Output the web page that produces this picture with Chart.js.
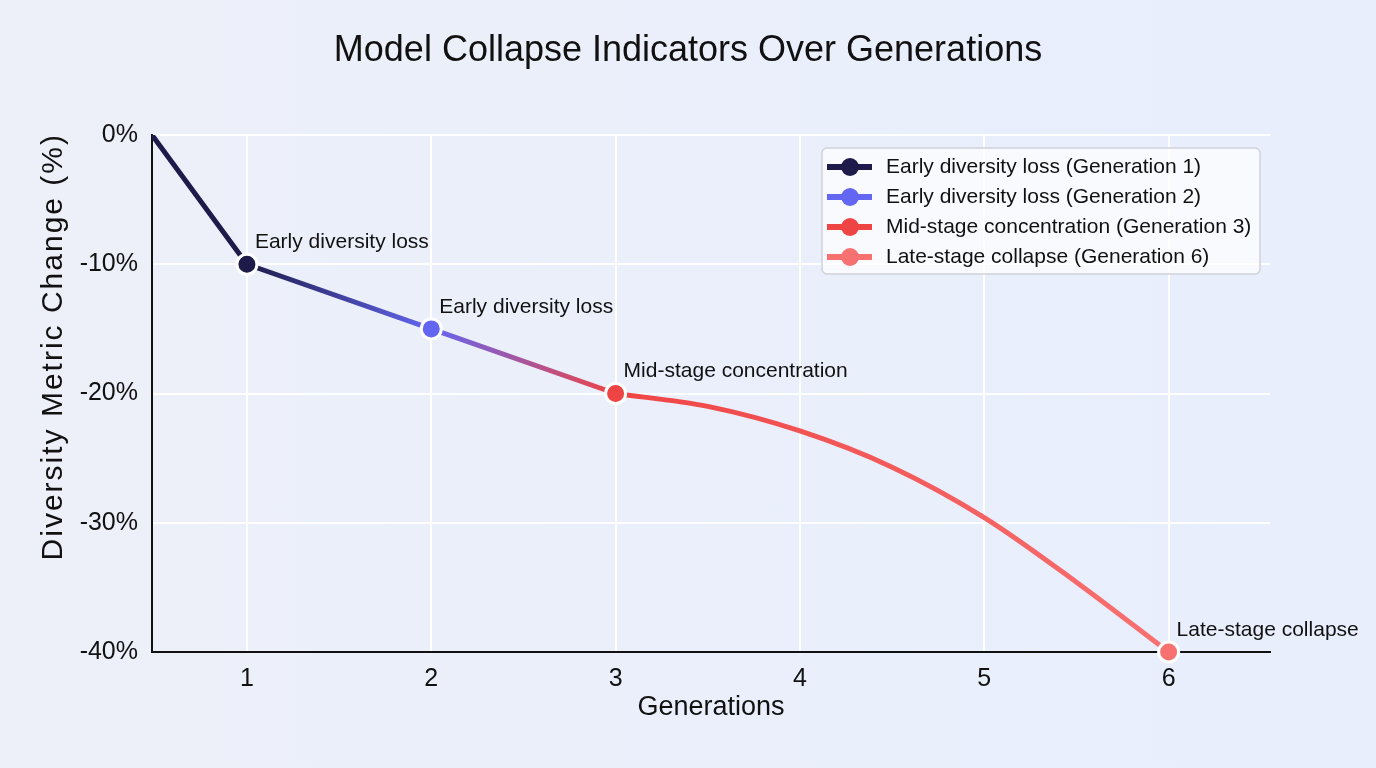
<!DOCTYPE html>
<html>
<head>
<meta charset="utf-8">
<title>Model Collapse Indicators Over Generations</title>
<script src="https://cdn.jsdelivr.net/npm/chart.js@4.4.1/dist/chart.umd.min.js"></script>
<style>
  html, body { margin: 0; padding: 0; }
  body {
    width: 1376px; height: 768px; overflow: hidden;
    background: linear-gradient(90deg, #edf0f8 0%, #eaeffb 50%, #e8eefc 100%);
  }
  canvas { display: block; }
</style>
</head>
<body>
<canvas id="grafica" width="1376" height="768"></canvas>
<script>
// datos
const pathX = [0.485, 1, 2, 3];          // tramo recto inicial
const pathY = [0, -10, -15, -20];
const curveX = [3, 3.5, 4, 4.5, 5, 5.5, 6]; // tramo curvo final
const curveY = [-20, -21.0, -22.9, -25.7, -29.6, -34.6, -40];

const markerGens = [1, 2, 3, 6];
const markerVals = [-10, -15, -20, -40];
const markerLabels = ["Early diversity loss", "Early diversity loss", "Mid-stage concentration", "Late-stage collapse"];
const legendLabels = [
    "Early diversity loss (Generation 1)",
    "Early diversity loss (Generation 2)",
    "Mid-stage concentration (Generation 3)",
    "Late-stage collapse (Generation 6)"
];
const stageColors = ["#1e1b4b", "#6366f1", "#ef4444", "#f87171"];
const xTicks = [1, 2, 3, 4, 5, 6];
const yTicks = [-40, -30, -20, -10, 0];

const FONT = "'Liberation Sans', Arial, Helvetica, sans-serif";

//gradiente horizontal del trazo, con paradas en cada generacion marcada
function lineGradient(ctx) {
    const chart = ctx.chart;
    const xs = chart.scales.x;
    if (!chart.chartArea || !xs) return stageColors[0];
    const first = markerGens[0], last = markerGens[markerGens.length - 1];
    const g = chart.ctx.createLinearGradient(xs.getPixelForValue(first), 0, xs.getPixelForValue(last), 0);
    markerGens.forEach((gen, i) => {
        g.addColorStop((gen - first) / (last - first), stageColors[i]);
    });
    return g;
}

//titulo general y titulo del eje Y (con espaciado de letras)
const titlePlugin = {
    id: 'titulos',
    afterDraw(chart) {
        const c = chart.ctx;
        c.save();
        c.font = `36px ${FONT}`;
        c.fillStyle = '#111';
        c.textAlign = 'center';
        c.textBaseline = 'middle';
        c.fillText("Model Collapse Indicators Over Generations", chart.width / 2, 51);
        c.restore();

        c.save();
        c.translate(54, chart.chartArea.top - 2);
        c.rotate(-Math.PI / 2);
        c.font = `30px ${FONT}`;
        c.letterSpacing = '2px';
        c.fillStyle = '#111';
        c.textAlign = 'right';
        c.textBaseline = 'middle';
        c.fillText("Diversity Metric Change (%)", 0, 0);
        c.restore();
    }
};

const labelsPlugin = {
    id: 'etiquetas',
    afterDatasetsDraw(chart) {
        const c = chart.ctx;
        const xs = chart.scales.x, ys = chart.scales.y;
        c.save();
        c.font = `21px ${FONT}`;
        c.fillStyle = '#111';
        c.textAlign = 'left';
        c.textBaseline = 'middle';
        markerGens.forEach((gen, i) => {
            c.fillText(markerLabels[i], xs.getPixelForValue(gen) + 8, ys.getPixelForValue(markerVals[i]) - 22);
        });
        c.restore();
    }
};

const legendPlugin = {
    id: 'leyenda',
    afterDraw(chart) {
        const c = chart.ctx;
        const area = chart.chartArea;
        const w = 438, h = 126;
        const left = area.right - 10 - w, top = area.top + 13;
        c.save();
        c.beginPath();
        c.roundRect(left, top, w, h, 5);
        c.fillStyle = 'rgba(255,255,255,0.7)';
        c.fill();
        c.strokeStyle = '#cfd2da';
        c.lineWidth = 1.5;
        c.stroke();
        c.font = `21px ${FONT}`;
        c.textBaseline = 'middle';
        legendLabels.forEach((txt, i) => {
            const y = top + 19 + i * 30;
            c.strokeStyle = stageColors[i];
            c.lineWidth = 6;
            c.beginPath();
            c.moveTo(left + 5, y);
            c.lineTo(left + 50, y);
            c.stroke();
            c.fillStyle = stageColors[i];
            c.beginPath();
            c.arc(left + 28, y, 9, 0, Math.PI * 2);
            c.fill();
            c.fillStyle = '#111';
            c.fillText(txt, left + 64, y);
        });
        c.restore();
    }
};

const config = {
    type: 'line',
    data: {
        datasets: [
            {
                label: 'markers',
                data: markerGens.map((g, i) => ({ x: g, y: markerVals[i] })),
                showLine: false,
                clip: false,
                pointRadius: 10,
                pointHoverRadius: 10,
                pointBorderWidth: 3,
                pointBorderColor: '#ffffff',
                pointBackgroundColor: stageColors
            },
            {
                label: 'path',
                data: pathX.map((x, i) => ({ x: x, y: pathY[i] })),
                borderColor: lineGradient,
                borderWidth: 5,
                pointRadius: 0,
                tension: 0,
                borderCapStyle: 'round',
                borderJoinStyle: 'round'
            },
            {
                label: 'curve',
                data: curveX.map((x, i) => ({ x: x, y: curveY[i] })),
                borderColor: lineGradient,
                borderWidth: 5,
                pointRadius: 0,
                cubicInterpolationMode: 'monotone',
                borderCapStyle: 'round'
            }
        ]
    },
    options: {
        responsive: false,
        animation: false,
        layout: { padding: { top: 135, right: 106, left: 0, bottom: 0 } },
        plugins: {
            legend: { display: false },
            title: { display: false },
            tooltip: { enabled: false }
        },
        scales: {
            x: {
                type: 'linear',
                min: 0.485,
                max: 6.55,
                afterFit: s => { s.height = 116; },
                afterBuildTicks: s => { s.ticks = xTicks.map(v => ({ value: v })); },
                grid: { color: '#ffffff', lineWidth: 2, drawTicks: false },
                border: { display: true, color: '#111', width: 2 },
                ticks: { color: '#111', font: { family: FONT, size: 25 }, padding: 12 },
                title: {
                    display: true, text: 'Generations', color: '#111',
                    font: { family: FONT, size: 27 }, padding: { top: 0, bottom: 44 }
                }
            },
            y: {
                type: 'linear',
                min: -40,
                max: 0,
                afterFit: s => { s.width = 152; },
                afterBuildTicks: s => { s.ticks = yTicks.map(v => ({ value: v })); },
                grid: { color: '#ffffff', lineWidth: 2, drawTicks: false },
                border: { display: true, color: '#111', width: 2 },
                ticks: {
                    color: '#111', font: { family: FONT, size: 25 }, padding: 14,
                    callback: v => v + '%'
                }
            }
        }
    },
    plugins: [titlePlugin, labelsPlugin, legendPlugin]
};

const ChartPrincipal = new Chart(document.getElementById('grafica'), config);
</script>
</body>
</html>
